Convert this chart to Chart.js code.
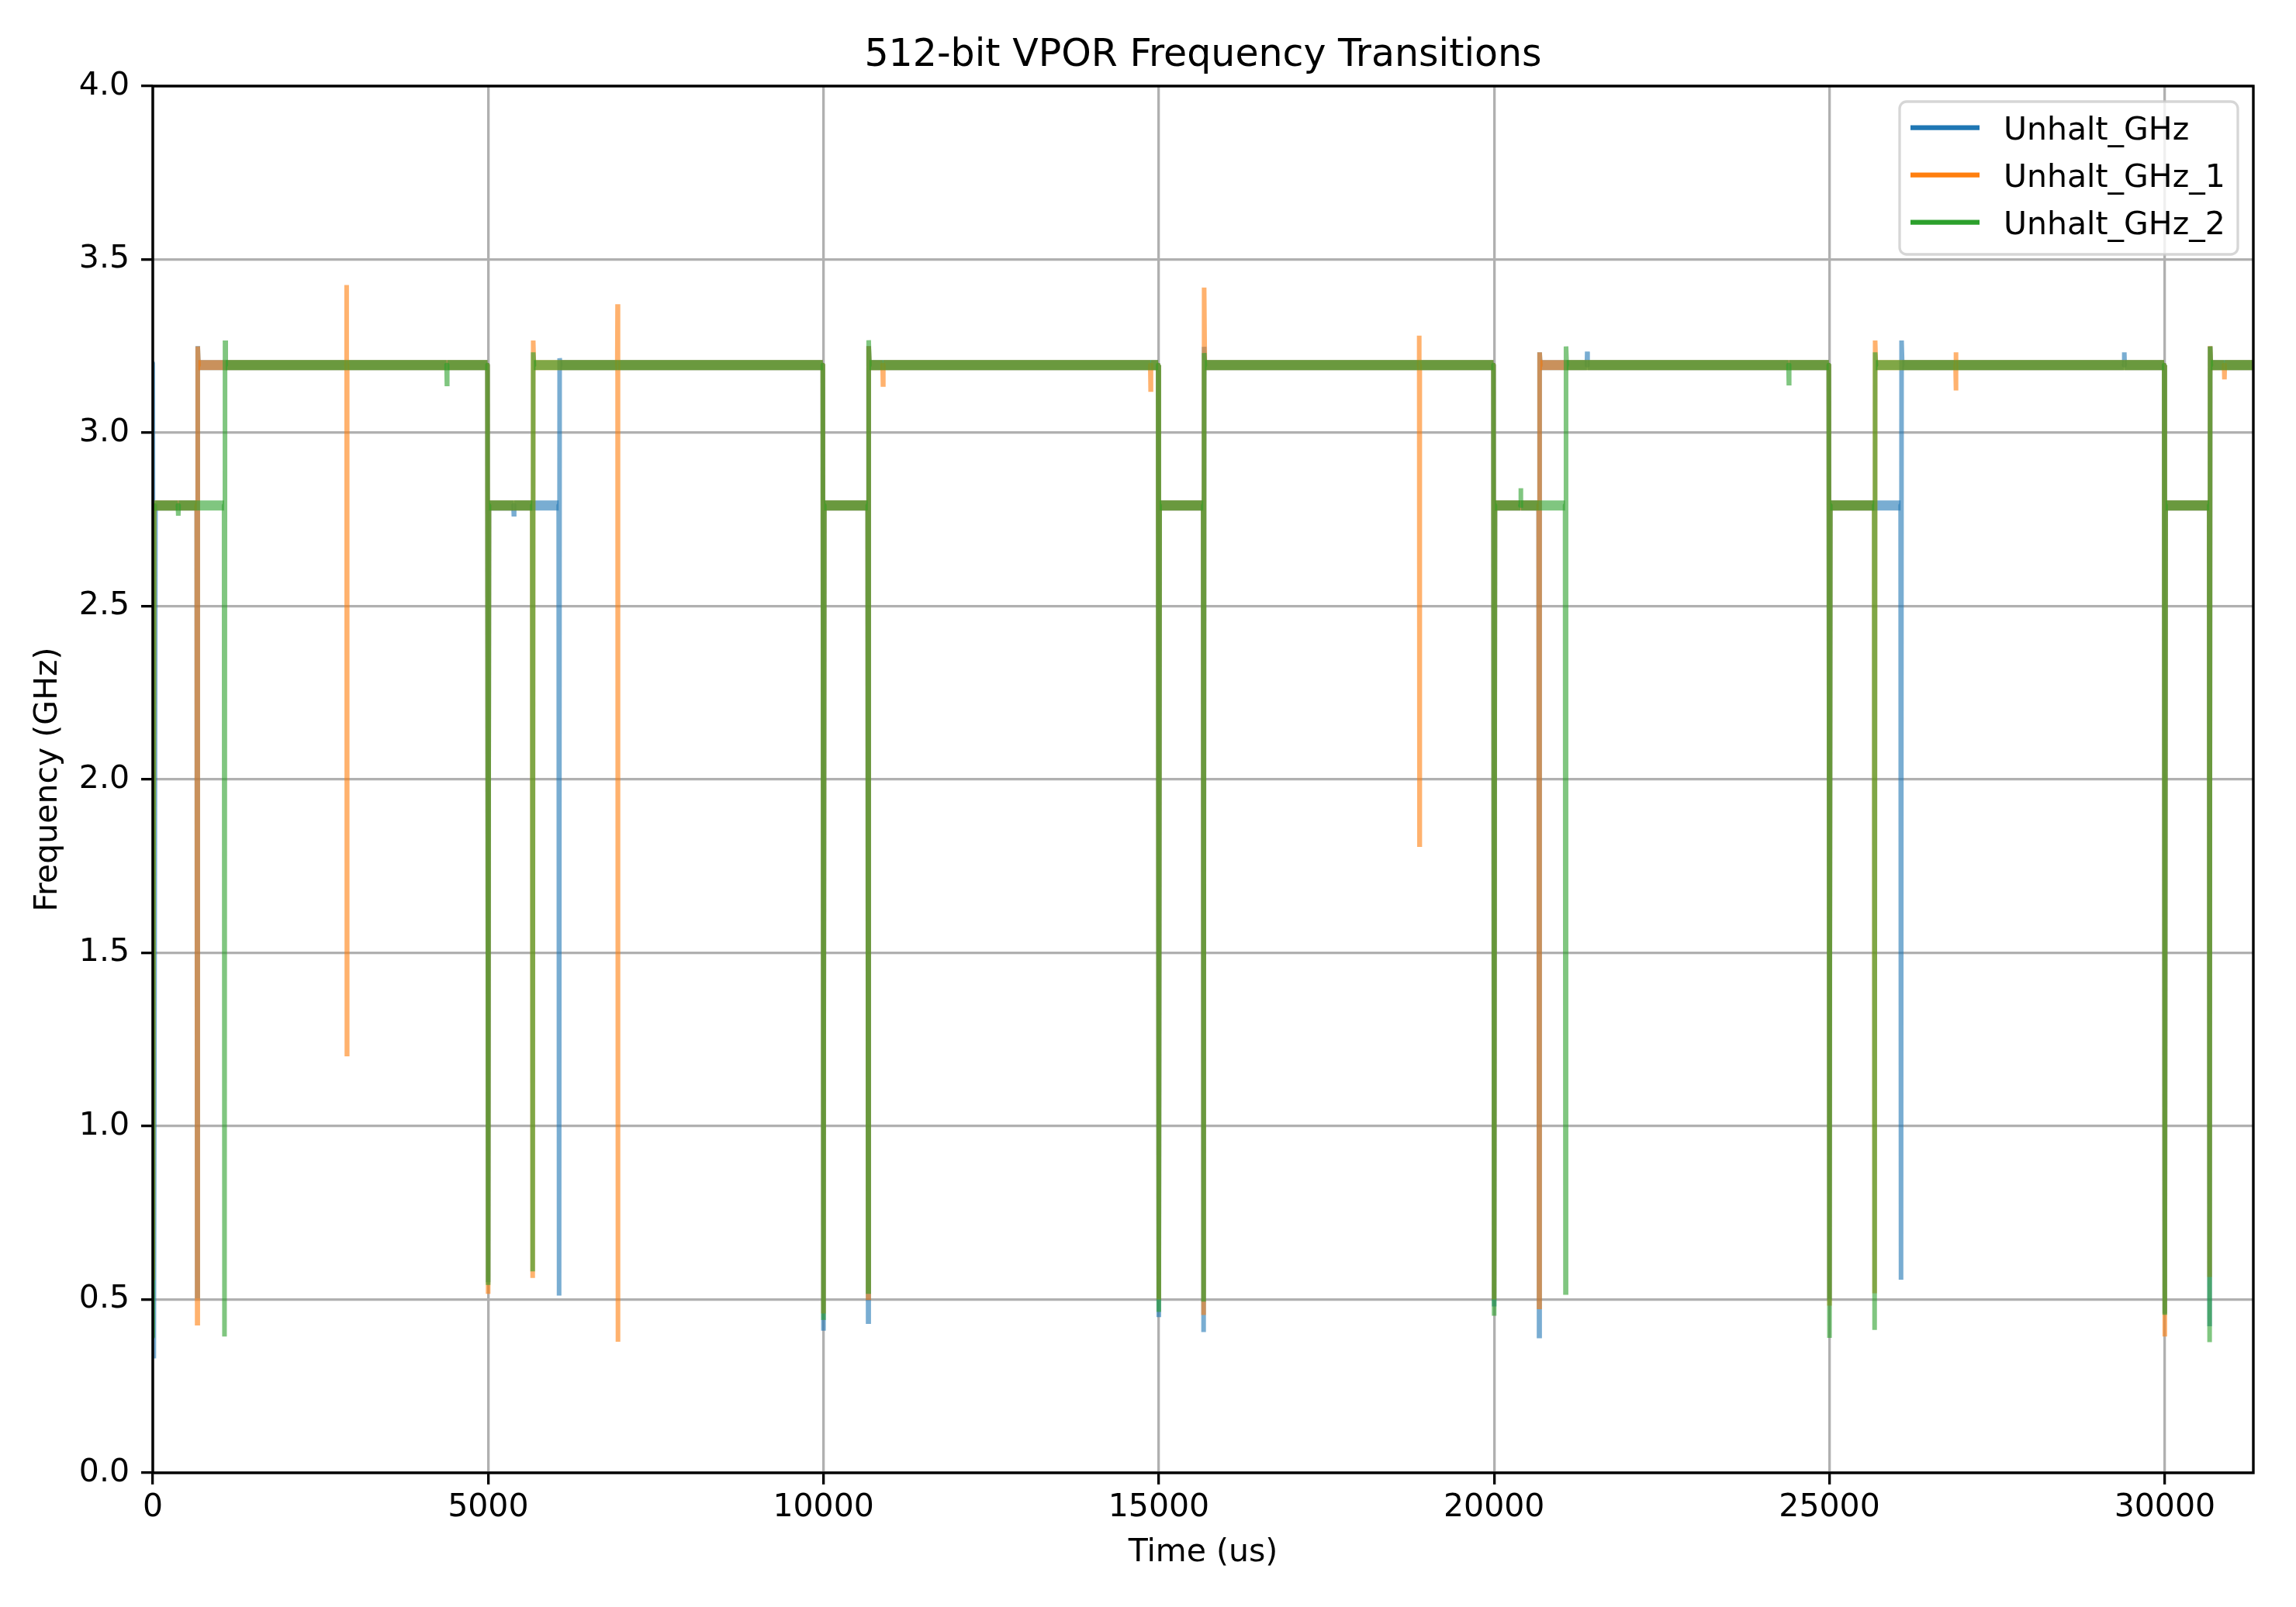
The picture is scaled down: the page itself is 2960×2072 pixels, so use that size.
<!DOCTYPE html>
<html>
<head>
<meta charset="utf-8">
<title>512-bit VPOR Frequency Transitions</title>
<script src="https://cdn.jsdelivr.net/npm/chart.js@4.4.1/dist/chart.umd.min.js"></script>
<style>
  html, body { margin: 0; padding: 0; background: #fff; }
  #chart { display: block; }
</style>
</head>
<body>
<canvas id="chart" width="2960" height="2072"></canvas>
<script>
const chartTitle = '512-bit VPOR Frequency Transitions';
const xAxisTitle = 'Time (us)';
const yAxisTitle = 'Frequency (GHz)';
const seriesLabels = ['Unhalt_GHz', 'Unhalt_GHz_1', 'Unhalt_GHz_2'];

const xMax = 31320;
const xTicks = [0, 5000, 10000, 15000, 20000, 25000, 30000];
const yTicks = [0, 0.5, 1, 1.5, 2, 2.5, 3, 3.5, 4];
const yTickLabels = ['0.0', '0.5', '1.0', '1.5', '2.0', '2.5', '3.0', '3.5', '4.0'];

// Unhalt_GHz
const blueTime = [0, 15, 40, 655, 662, 670, 680, 4990, 5000, 5012, 5378, 5383, 5388, 6052, 6058, 6066, 6076,
  9990, 10000, 10012, 10660, 10666, 10674, 10684, 14990, 15000, 15012, 15662, 15668, 15676, 15686,
  19990, 20000, 20012, 20664, 20670, 20678, 20688, 21383, 21388, 21393, 24990, 25000, 25012,
  26061, 26067, 26075, 26085, 29391, 29396, 29401, 29990, 30000, 30012, 30662, 30668, 30676, 30686, 31320];
const blueGHz = [3.2, 0.33, 2.79, 2.79, 0.51, 3.25, 3.195, 3.195, 0.55, 2.79, 2.79, 2.765, 2.79, 2.79, 0.511, 3.215, 3.195,
  3.195, 0.41, 2.79, 2.79, 0.436, 3.25, 3.195, 3.195, 0.449, 2.79, 2.79, 0.406, 3.248, 3.195,
  3.195, 0.48, 2.79, 2.79, 0.395, 3.232, 3.195, 3.195, 3.234, 3.195, 3.195, 0.5, 2.79,
  2.79, 0.557, 3.266, 3.195, 3.195, 3.232, 3.195, 3.195, 0.46, 2.79, 2.79, 0.423, 3.249, 3.195, 3.195];

// Unhalt_GHz_1
const orangeTime = [0, 20, 655, 662, 670, 680, 2886, 2890, 2894, 2898, 4990, 5000, 5012, 5658, 5664, 5672, 5682,
  6926, 6930, 6934, 6938, 9990, 10000, 10012, 10660, 10666, 10674, 10684, 10882, 10887, 10892,
  14873, 14878, 14883, 14990, 15000, 15012, 15662, 15668, 15676, 15686, 18879, 18883, 18887, 18891,
  19990, 20000, 20012, 20664, 20670, 20678, 20688, 24990, 25000, 25012, 25667, 25673, 25681, 25691,
  26880, 26883, 26887, 26890, 29990, 30000, 30012, 30662, 30668, 30676, 30686, 30884, 30889, 30894, 31320];
const orangeGHz = [0.56, 2.79, 2.79, 0.432, 3.249, 3.195, 3.195, 3.426, 1.208, 3.195, 3.195, 0.516, 2.79, 2.79, 0.562, 3.266, 3.195,
  3.195, 3.371, 0.378, 3.195, 3.195, 0.46, 2.79, 2.79, 0.505, 3.25, 3.195, 3.195, 3.139, 3.195,
  3.195, 3.125, 3.195, 3.195, 0.5, 2.79, 2.79, 0.455, 3.419, 3.195, 3.195, 3.28, 1.812, 3.195,
  3.195, 0.5, 2.79, 2.79, 0.479, 3.232, 3.195, 3.195, 0.482, 2.79, 2.79, 0.518, 3.266, 3.195,
  3.195, 3.232, 3.122, 3.195, 3.195, 0.393, 2.79, 2.79, 0.565, 3.25, 3.195, 3.195, 3.154, 3.195, 3.195];

// Unhalt_GHz_2
const greenTime = [0, 20, 375, 380, 385, 1063, 1069, 1077, 1087, 4380, 4385, 4390, 4990, 5000, 5012, 5658, 5664, 5672, 5682,
  9990, 10000, 10012, 10660, 10666, 10674, 10684, 14990, 15000, 15012, 15662, 15668, 15676, 15686,
  19990, 20000, 20012, 20391, 20396, 20401, 21058, 21064, 21072, 21082, 24389, 24394, 24399,
  24990, 25000, 25012, 25667, 25673, 25681, 25691, 29990, 30000, 30012, 30662, 30668, 30676, 30686, 31320];
const greenGHz = [0.393, 2.79, 2.79, 2.761, 2.79, 2.79, 0.393, 3.266, 3.195, 3.195, 3.141, 3.195, 3.195, 0.542, 2.79, 2.79, 0.581, 3.232, 3.195,
  3.195, 0.441, 2.79, 2.79, 0.523, 3.267, 3.195, 3.195, 0.464, 2.79, 2.79, 0.494, 3.23, 3.195,
  3.195, 0.453, 2.79, 2.79, 2.84, 2.79, 2.79, 0.52, 3.249, 3.195, 3.195, 3.143, 3.195,
  3.195, 0.389, 2.79, 2.79, 0.412, 3.232, 3.195, 3.195, 0.456, 2.79, 2.79, 0.377, 3.249, 3.195, 3.195];

const FONT = 'DejaVu Sans';
const solidColors = ['#1f77b4', '#ff7f0e', '#2ca02c'];
const lineColors = ['rgba(31,119,180,0.6)', 'rgba(255,127,14,0.6)', 'rgba(44,160,44,0.6)'];

function toPoints(times, values) {
  return times.map((t, i) => ({ x: t, y: values[i] }));
}

// flat stretches are the noisy plateaus, so they are drawn as a wider band
const isFlat = (ctx) => ctx.p0.parsed.y === ctx.p1.parsed.y;

const datasets = [
  toPoints(blueTime, blueGHz),
  toPoints(orangeTime, orangeGHz),
  toPoints(greenTime, greenGHz)
].map((data, i) => ({
  label: seriesLabels[i],
  data,
  order: 2 - i, // later series painted on top, like matplotlib
  borderColor: lineColors[i],
  backgroundColor: lineColors[i],
  borderWidth: 6,
  borderCapStyle: 'butt',
  borderJoinStyle: 'miter',
  pointRadius: 0,
  tension: 0,
  fill: false,
  segment: {
    borderWidth: (ctx) => (isFlat(ctx) ? 13 : 6),
    borderCapStyle: (ctx) => (isFlat(ctx) ? 'butt' : 'round')
  }
}));

const titlePlugin = {
  id: 'plotTitle',
  afterDraw(chart) {
    const { ctx, chartArea } = chart;
    ctx.save();
    ctx.fillStyle = '#000';
    ctx.font = `49px "${FONT}"`;
    ctx.textAlign = 'center';
    ctx.textBaseline = 'alphabetic';
    ctx.fillText(chartTitle, (chartArea.left + chartArea.right) / 2, 85);
    ctx.restore();
  }
};

const framePlugin = {
  id: 'frame',
  afterDatasetsDraw(chart) {
    const { ctx, chartArea } = chart;
    ctx.save();
    ctx.strokeStyle = '#000';
    ctx.lineWidth = 3.4;
    ctx.strokeRect(chartArea.left, chartArea.top, chartArea.right - chartArea.left, chartArea.bottom - chartArea.top);
    ctx.restore();
  }
};

const legendPlugin = {
  id: 'legendBox',
  afterDraw(chart) {
    const { ctx, chartArea } = chart;
    const w = 436, h = 197;
    const x = chartArea.right - 456, y = chartArea.top + 20;
    ctx.save();
    ctx.beginPath();
    ctx.roundRect(x, y, w, h, 9);
    ctx.fillStyle = 'rgba(255,255,255,0.8)';
    ctx.fill();
    ctx.strokeStyle = 'rgba(204,204,204,0.8)';
    ctx.lineWidth = 3.3;
    ctx.stroke();
    ctx.font = `41px "${FONT}"`;
    ctx.textBaseline = 'alphabetic';
    ctx.textAlign = 'left';
    chart.data.datasets.forEach((ds, i) => {
      const rowY = y + 33.5 + i * 61;
      ctx.strokeStyle = solidColors[i];
      ctx.lineWidth = 6.25;
      ctx.beginPath();
      ctx.moveTo(x + 14, rowY);
      ctx.lineTo(x + 103, rowY);
      ctx.stroke();
      ctx.fillStyle = '#000';
      ctx.fillText(ds.label, x + 134, rowY + 15);
    });
    ctx.restore();
  }
};

new Chart(document.getElementById('chart'), {
  type: 'line',
  data: { datasets },
  options: {
    responsive: false,
    devicePixelRatio: 1,
    animation: false,
    layout: { padding: { top: 111, right: 55, left: 0, bottom: 0 } },
    plugins: {
      legend: { display: false },
      title: { display: false },
      tooltip: { enabled: false }
    },
    scales: {
      x: {
        type: 'linear',
        min: 0,
        max: xMax,
        afterBuildTicks: (scale) => { scale.ticks = xTicks.map((v) => ({ value: v })); },
        afterFit: (scale) => { scale.height = 173; },
        ticks: {
          color: '#000',
          font: { family: FONT, size: 41 },
          padding: 6,
          maxRotation: 0,
          autoSkip: false,
          callback: (value) => String(value)
        },
        grid: { color: '#b0b0b0', lineWidth: 3.3, tickLength: 15, tickColor: '#000', tickWidth: 3.3 },
        border: { display: false },
        title: {
          display: true,
          text: xAxisTitle,
          color: '#000',
          font: { family: FONT, size: 41 },
          padding: { top: 0, bottom: 45 }
        }
      },
      y: {
        type: 'linear',
        min: 0,
        max: 4,
        afterBuildTicks: (scale) => { scale.ticks = yTicks.map((v) => ({ value: v })); },
        afterFit: (scale) => { scale.width = 197; },
        ticks: {
          color: '#000',
          font: { family: FONT, size: 41 },
          padding: 15,
          autoSkip: false,
          callback: (value) => yTickLabels[yTicks.indexOf(value)]
        },
        grid: { color: '#b0b0b0', lineWidth: 3.3, tickLength: 15, tickColor: '#000', tickWidth: 3.3 },
        border: { display: false },
        title: {
          display: true,
          text: yAxisTitle,
          color: '#000',
          font: { family: FONT, size: 41 },
          padding: { top: 38, bottom: 0 }
        }
      }
    }
  },
  plugins: [framePlugin, titlePlugin, legendPlugin]
});
</script>
</body>
</html>
